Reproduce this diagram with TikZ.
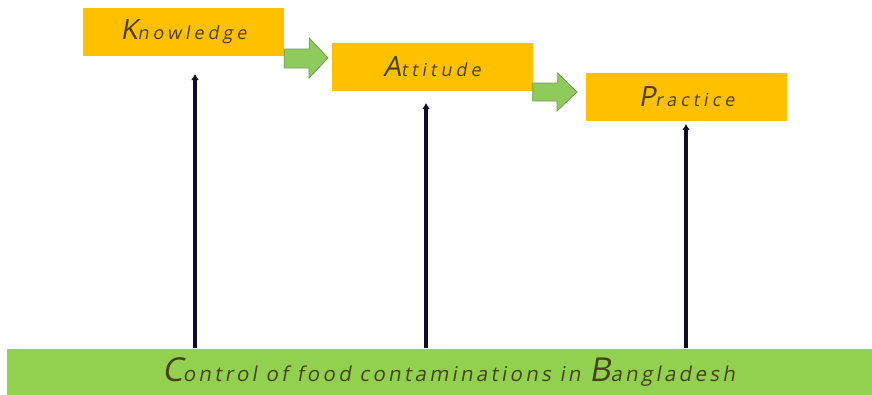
\documentclass[tikz,border=0pt]{standalone}
\usepackage{fontspec}
\newfontfamily\kapfont[LetterSpace=22,FakeSlant=0.18]{Open Sans}
\newfontfamily\basefont[LetterSpace=16,FakeSlant=0.18]{Open Sans}
\definecolor{boxorange}{HTML}{FFC000}
\definecolor{bargreen}{HTML}{92D050}
\definecolor{flowgreen}{HTML}{8FCB5C}
\definecolor{flowedge}{HTML}{6F9A50}
\definecolor{labelink}{HTML}{4A4020}
\definecolor{poleink}{HTML}{0E0E2A}
\usetikzlibrary{arrows.meta}
\tikzset{
  kapbox/.style={fill=boxorange, draw=none, minimum width=201pt, minimum height=48pt,
    inner sep=0pt, text=labelink, font=\kapfont},
  basebar/.style={fill=bargreen, draw=none, minimum width=865pt, minimum height=47pt,
    inner sep=0pt, text=labelink, font=\basefont},
  pole/.style={draw=poleink, line width=3.8pt, -{Latex[length=6pt,width=8pt]}},
  flowarrow/.style={fill=flowgreen, draw=flowedge, line width=0.8pt, line join=miter}
}
\newcommand{\initcap}[2]{{\fontsize{#1}{#1}\selectfont #2}}
\begin{document}
\begin{tikzpicture}[x=1pt,y=-1pt]
  \useasboundingbox (0,0) rectangle (872,394);
  % the three stages
  \node[kapbox] (know) at (183.5,32) {\initcap{28}{K}\fontsize{18}{18}\selectfont nowledge};
  \node[kapbox] (att) at (432,67) {\initcap{28}{A}\fontsize{18}{18}\selectfont ttitude};
  \node[kapbox] (prac) at (686.5,96.5) {\initcap{28}{P}\fontsize{18}{18}\selectfont ractice};
  % the base, its label set a little right of centre
  \node[basebar] (base) at (439.5,372) {\hspace*{18pt}\initcap{33}{C}\fontsize{20.5}{20.5}\selectfont ontrol of food contaminations in \initcap{33}{B}angladesh};
  % tips of the vertical arrows
  \coordinate (tk) at (195,74);
  \coordinate (ta) at (426,103);
  \coordinate (tp) at (686,124);
  \draw[pole] (base.north -| tk) -- (tk);
  \draw[pole] (base.north -| ta) -- (ta);
  \draw[pole] (base.north -| tp) -- (tp);
  % block arrows between the stages
  \path[flowarrow] (know.east |- 0,49) -- ++(25,0) -- ++(0,-11) -- (328,58) -- (309,78)
     -- ++(0,-10) -- (know.east |- 0,68) -- cycle;
  \path[flowarrow] (att.east |- 0,83) -- ++(25,0) -- ++(0,-10) -- (577,92) -- (557,111)
     -- ++(0,-10) -- (att.east |- 0,101) -- cycle;
\end{tikzpicture}
\end{document}
